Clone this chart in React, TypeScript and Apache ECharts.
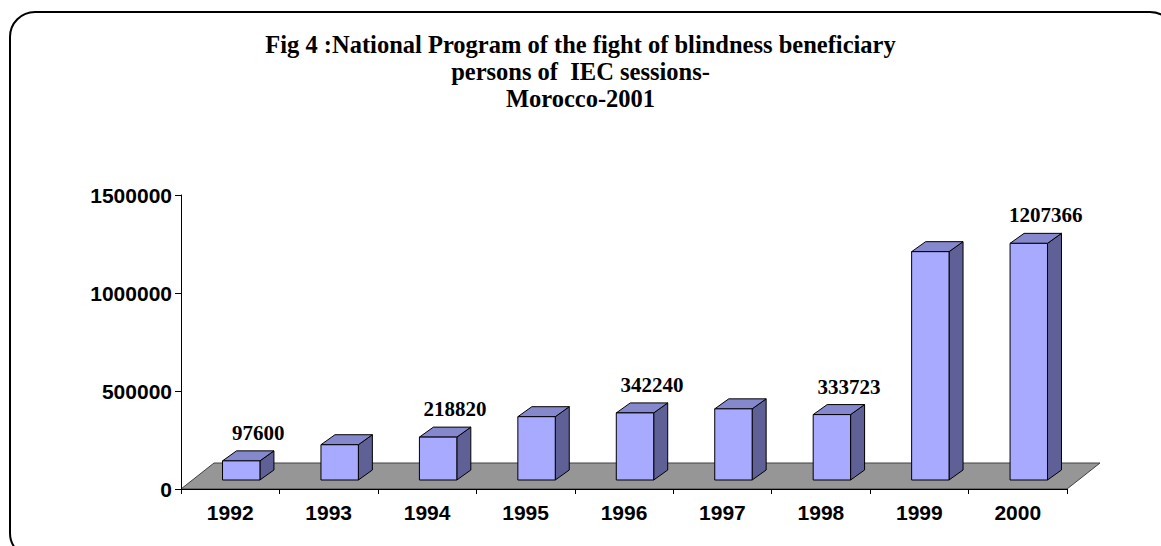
import React, { useEffect, useRef } from "react";
import * as echarts from "echarts";

const years = ["1992", "1993", "1994", "1995", "1996", "1997", "1998", "1999", "2000"];
const beneficiaries = [97600, 180000, 218820, 323000, 342240, 363000, 333723, 1165000, 1207366];
const labelledYears = ["1992", "1994", "1996", "1998", "2000"];
const yMax = 1500000;
const yInterval = 500000;
const titleLines = [
  "Fig 4 :National Program of the fight of blindness beneficiary",
  "persons of  IEC sessions-",
  "Morocco-2001",
];

const FRONT = "#A8AAFF";
const TOP = "#8688CE";
const SIDE = "#5F6096";

export default function App() {
  const ref = useRef<HTMLDivElement>(null);
  useEffect(() => {
    if (!ref.current) return;
    const chart = echarts.init(ref.current, null, { renderer: "svg" });
    const option: any = {
      animation: false,
      backgroundColor: "#fff",
      title: {
        text: titleLines.join("\n"),
        left: "center",
        top: 26,
        textStyle: {
          fontFamily: "Liberation Serif",
          fontWeight: "bold",
          fontSize: 24.5,
          lineHeight: 27,
          color: "#000",
        },
      },
      graphic: [
        {
          type: "rect",
          shape: { x: 10, y: 12, width: 1165, height: 546, r: 25 },
          style: { fill: "none", stroke: "#000", lineWidth: 2 },
          z: 100,
        },
      ],
      grid: { left: 181, right: 94, top: 195, bottom: 57 },
      xAxis: {
        type: "category",
        data: years,
        boundaryGap: true,
        axisLine: { show: true, lineStyle: { color: "#000", width: 1 } },
        axisTick: { show: true, length: 5, lineStyle: { color: "#000" } },
        axisLabel: {
          margin: 13,
          fontFamily: "Liberation Sans",
          fontWeight: "bold",
          fontSize: 21,
          color: "#000",
        },
        z: 10,
      },
      yAxis: {
        type: "value",
        min: 0,
        max: yMax,
        interval: yInterval,
        splitLine: { show: false },
        axisLine: { show: true, lineStyle: { color: "#000", width: 1 } },
        axisTick: { show: true, length: 6, lineStyle: { color: "#000" } },
        axisLabel: {
          margin: 9,
          fontFamily: "Liberation Sans",
          fontWeight: "bold",
          fontSize: 21,
          color: "#000",
          formatter: (v: number) => String(v),
        },
        z: 10,
      },
      series: [
        {
          type: "custom",
          z: 1,
          data: [[0, 0]],
          renderItem: (params: any, api: any) => {
            const cs = params.coordSys;
            const y0 = api.coord([0, 0])[1];
            const xl = cs.x;
            const xr = cs.x + cs.width;
            const ddx = 33, ddy = -26;
            return {
              type: "polygon",
              shape: {
                points: [
                  [xl, y0],
                  [xr, y0],
                  [xr + ddx, y0 + ddy],
                  [xl + ddx, y0 + ddy],
                ],
              },
              style: { fill: "#969696", stroke: "#404040", lineWidth: 1 },
            };
          },
        },
        {
          type: "custom",
          z: 3,
          data: beneficiaries.map((v, i) => [i, v]),
          renderItem: (params: any, api: any) => {
            const i = api.value(0);
            const v = api.value(1);
            const base = api.coord([i, 0]);
            const top = api.coord([i, v]);
            const band = api.size([1, 0])[0];
            const w = band * 0.38;
            const sx = 11, sy = -9;
            const dx = 14, dy = -10;
            const x0 = base[0] + sx - w / 2;
            const x1 = x0 + w;
            const yb = base[1] + sy;
            const yt = top[1] + sy;
            const stroke = { stroke: "#000", lineWidth: 1, lineJoin: "round" };
            const children: any[] = [
              {
                type: "polygon",
                shape: { points: [[x1, yt], [x1 + dx, yt + dy], [x1 + dx, yb + dy], [x1, yb]] },
                style: { fill: SIDE, ...stroke },
              },
              {
                type: "polygon",
                shape: { points: [[x0, yt], [x1, yt], [x1 + dx, yt + dy], [x0 + dx, yt + dy]] },
                style: { fill: TOP, ...stroke },
              },
              {
                type: "rect",
                shape: { x: x0, y: yt, width: w, height: yb - yt },
                style: { fill: FRONT, ...stroke },
              },
            ];
            if (labelledYears.indexOf(years[i]) >= 0) {
              children.push({
                type: "text",
                style: {
                  text: String(v),
                  x: (x0 + x1) / 2 + 17,
                  y: yt + dy - 18,
                  align: "center",
                  verticalAlign: "middle",
                  font: 'bold 21px "Liberation Serif"',
                  fill: "#000",
                },
              });
            }
            return { type: "group", children };
          },
        },
      ],
    };
    chart.setOption(option);
    return () => chart.dispose();
  }, []);
  return (
    <div
      ref={ref}
      style={{ position: "absolute", left: 0, top: 0, width: 1161, height: 546 }}
    />
  );
}
